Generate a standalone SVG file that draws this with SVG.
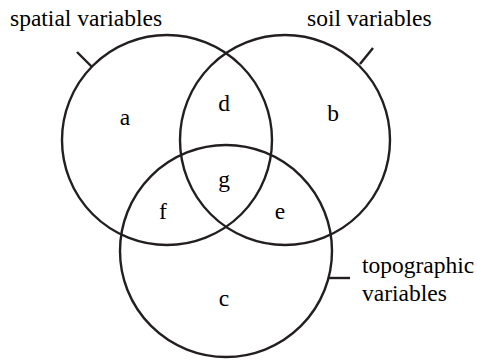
<svg xmlns="http://www.w3.org/2000/svg" width="477" height="360" viewBox="0 0 477 360">
<rect width="477" height="360" fill="#fff"/>
<g id="spatial">
<circle cx="167" cy="140" r="105" fill="none" stroke="#231f20" stroke-width="2.4"/>
<line x1="77" y1="52" x2="92" y2="67" stroke="#231f20" stroke-width="2.4"/>
</g>
<g id="soil">
<circle cx="285" cy="140" r="105" fill="none" stroke="#231f20" stroke-width="2.4"/>
<line x1="373" y1="48" x2="360" y2="64" stroke="#231f20" stroke-width="2.4"/>
</g>
<g id="topographic">
<circle cx="226" cy="251" r="106" fill="none" stroke="#231f20" stroke-width="2.4"/>
<line x1="328" y1="278" x2="350" y2="278" stroke="#231f20" stroke-width="2.4"/>
</g>
<g id="connectors"></g>
<text font-family="Liberation Serif" font-size="23.5" x="10" y="26">spatial variables</text>
<text font-family="Liberation Serif" font-size="23.5" x="307" y="26">soil variables</text>
<text font-family="Liberation Serif" font-size="23.5" x="362" y="273">topographic</text>
<text font-family="Liberation Serif" font-size="23.5" x="362" y="301">variables</text>
<text font-family="Liberation Serif" font-size="23.5" text-anchor="middle" x="125" y="125">a</text>
<text font-family="Liberation Serif" font-size="23.5" text-anchor="middle" x="333" y="121">b</text>
<text font-family="Liberation Serif" font-size="23.5" text-anchor="middle" x="224" y="306">c</text>
<text font-family="Liberation Serif" font-size="23.5" text-anchor="middle" x="224" y="111">d</text>
<text font-family="Liberation Serif" font-size="23.5" text-anchor="middle" x="280" y="219">e</text>
<text font-family="Liberation Serif" font-size="23.5" text-anchor="middle" x="163" y="219">f</text>
<text font-family="Liberation Serif" font-size="23.5" text-anchor="middle" x="224" y="187">g</text>
</svg>
